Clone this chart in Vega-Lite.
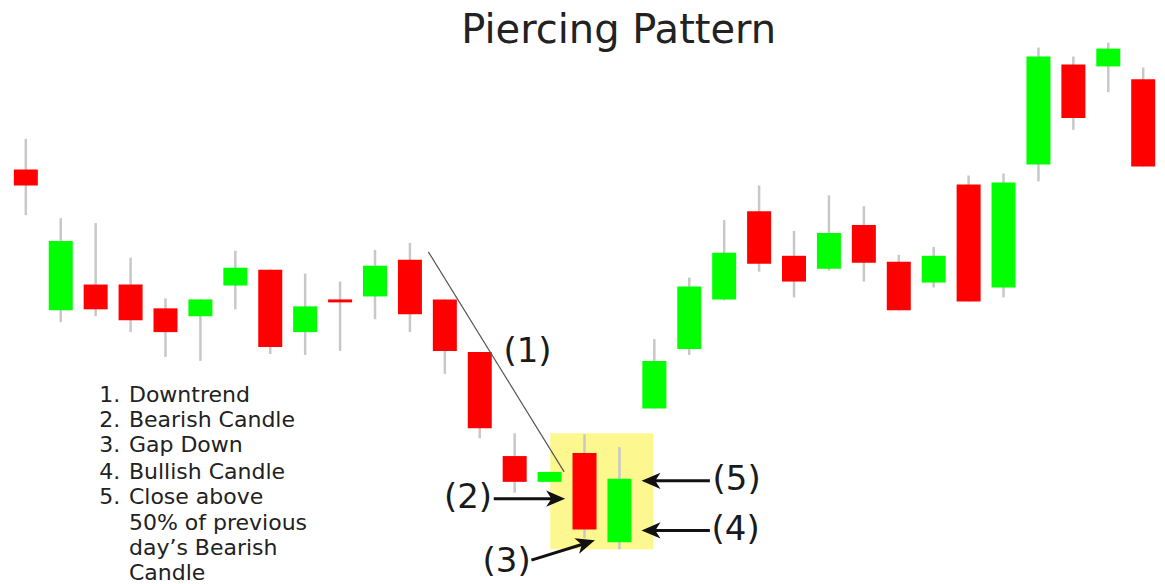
{
  "$schema": "https://vega.github.io/schema/vega-lite/v6.json",
  "width": 1165,
  "height": 584,
  "autosize": {"type": "fit", "contains": "padding"},
  "padding": 0,
  "background": "white",
  "config": {"view": {"stroke": null}},
  "datasets": {
    "candles": [
      {"day": 1, "open": 413, "high": 444, "low": 367, "close": 397},
      {"day": 2, "open": 271, "high": 364, "low": 259, "close": 341},
      {"day": 3, "open": 297, "high": 359, "low": 265, "close": 272},
      {"day": 4, "open": 297, "high": 324, "low": 249, "close": 261},
      {"day": 5, "open": 273, "high": 283, "low": 224, "close": 249},
      {"day": 6, "open": 265, "high": 282, "low": 220, "close": 282},
      {"day": 7, "open": 296, "high": 331, "low": 272, "close": 314},
      {"day": 8, "open": 312, "high": 312, "low": 227, "close": 234},
      {"day": 9, "open": 249, "high": 308, "low": 226, "close": 275},
      {"day": 10, "open": 282, "high": 300, "low": 230, "close": 279},
      {"day": 11, "open": 285, "high": 332, "low": 262, "close": 316},
      {"day": 12, "open": 322, "high": 339, "low": 249, "close": 267},
      {"day": 13, "open": 282, "high": 282, "low": 207, "close": 230},
      {"day": 14, "open": 229, "high": 229, "low": 142, "close": 152},
      {"day": 15, "open": 124, "high": 147, "low": 87, "close": 98},
      {"day": 16, "open": 98, "high": 108, "low": 98, "close": 108},
      {"day": 17, "open": 127, "high": 146, "low": 41, "close": 50},
      {"day": 18, "open": 37, "high": 133, "low": 30, "close": 101},
      {"day": 19, "open": 172, "high": 242, "low": 172, "close": 220},
      {"day": 20, "open": 232, "high": 304, "low": 226, "close": 295},
      {"day": 21, "open": 282, "high": 362, "low": 281, "close": 329},
      {"day": 22, "open": 371, "high": 397, "low": 310, "close": 318},
      {"day": 23, "open": 326, "high": 351, "low": 284, "close": 300},
      {"day": 24, "open": 313, "high": 387, "low": 311, "close": 349},
      {"day": 25, "open": 357, "high": 376, "low": 300, "close": 319},
      {"day": 26, "open": 320, "high": 327, "low": 271, "close": 271},
      {"day": 27, "open": 299, "high": 335, "low": 294, "close": 326},
      {"day": 28, "open": 398, "high": 407, "low": 280, "close": 280},
      {"day": 29, "open": 294, "high": 409, "low": 284, "close": 400},
      {"day": 30, "open": 418, "high": 536, "low": 401, "close": 527},
      {"day": 31, "open": 519, "high": 527, "low": 453, "close": 465},
      {"day": 32, "open": 517, "high": 541, "low": 491, "close": 535},
      {"day": 33, "open": 504, "high": 516, "low": 416, "close": 416}
    ],
    "notes": [
      {"num": "1.", "txt": "Downtrend", "line": 179},
      {"num": "2.", "txt": "Bearish Candle", "line": 153},
      {"num": "3.", "txt": "Gap Down", "line": 128},
      {"num": "4.", "txt": "Bullish Candle", "line": 101},
      {"num": "5.", "txt": "Close above", "line": 76},
      {"num": "", "txt": "50% of previous", "line": 49},
      {"num": "", "txt": "day’s Bearish", "line": 24},
      {"num": "", "txt": "Candle", "line": -1}
    ],
    "labels": [
      {"label": "(1)", "lx": 15.367, "ly": 219},
      {"label": "(2)", "lx": 13.663, "ly": 72},
      {"label": "(3)", "lx": 14.771, "ly": 7},
      {"label": "(4)", "lx": 21.329, "ly": 39},
      {"label": "(5)", "lx": 21.358, "ly": 90}
    ],
    "shafts": [
      {"sx": 14.401, "sy": 81, "ex": 16.105, "ey": 81},
      {"sx": 15.48, "sy": 19, "ex": 16.945, "ey": 35.1},
      {"sx": 20.591, "sy": 49, "ex": 18.973, "ey": 49},
      {"sx": 20.591, "sy": 99, "ex": 18.973, "ey": 99}
    ]
  },
  "layer": [
    {
      "data": {"values": [{"x1": 16.02, "x2": 18.973, "y1": 30, "y2": 147}]},
      "mark": {"type": "rect", "color": "#fcf88f"},
      "encoding": {
        "x": {"field": "x1", "type": "quantitative", "scale": {"domain": [0.4037, 33.481], "nice": false, "zero": false}, "axis": null},
        "x2": {"field": "x2"},
        "y": {"field": "y1", "type": "quantitative", "scale": {"domain": [0, 584], "nice": false, "zero": false}, "axis": null},
        "y2": {"field": "y2"}
      }
    },
    {
      "data": {"name": "candles"},
      "mark": {"type": "rule", "color": "#c8c8c8", "strokeWidth": 2.5},
      "encoding": {
        "x": {"field": "day", "type": "quantitative", "scale": {"domain": [0.4037, 33.481], "nice": false, "zero": false}, "axis": null},
        "y": {"field": "low", "type": "quantitative", "scale": {"domain": [0, 584], "nice": false, "zero": false}, "axis": null},
        "y2": {"field": "high"}
      }
    },
    {
      "data": {"name": "candles"},
      "mark": {"type": "bar", "size": 24},
      "encoding": {
        "x": {"field": "day", "type": "quantitative", "scale": {"domain": [0.4037, 33.481], "nice": false, "zero": false}, "axis": null},
        "y": {"field": "open", "type": "quantitative", "scale": {"domain": [0, 584], "nice": false, "zero": false}, "axis": null},
        "y2": {"field": "close"},
        "color": {"condition": {"test": "datum.open > datum.close", "value": "#ff0000"}, "value": "#00ff00"}
      }
    },
    {
      "data": {"values": [{"ax": 12.528, "ay": 330, "bx": 16.417, "by": 108}]},
      "mark": {"type": "rule", "color": "#555555", "strokeWidth": 1.2},
      "encoding": {
        "x": {"field": "ax", "type": "quantitative", "scale": {"domain": [0.4037, 33.481], "nice": false, "zero": false}, "axis": null},
        "y": {"field": "ay", "type": "quantitative", "scale": {"domain": [0, 584], "nice": false, "zero": false}, "axis": null},
        "x2": {"field": "bx"},
        "y2": {"field": "by"}
      }
    },
    {
      "data": {"name": "shafts"},
      "mark": {"type": "rule", "color": "#111111", "strokeWidth": 3},
      "encoding": {
        "x": {"field": "sx", "type": "quantitative", "scale": {"domain": [0.4037, 33.481], "nice": false, "zero": false}, "axis": null},
        "y": {"field": "sy", "type": "quantitative", "scale": {"domain": [0, 584], "nice": false, "zero": false}, "axis": null},
        "x2": {"field": "ex"},
        "y2": {"field": "ey"}
      }
    },
    {
      "data": {"values": [{"tx": 16.446, "ty": 81}]},
      "mark": {"type": "point", "shape": "M0,0L-2,-0.85L-1.45,0L-2,0.85Z", "size": 361, "filled": true, "opacity": 1, "color": "#111111", "angle": 0},
      "encoding": {
        "x": {"field": "tx", "type": "quantitative", "scale": {"domain": [0.4037, 33.481], "nice": false, "zero": false}, "axis": null},
        "y": {"field": "ty", "type": "quantitative", "scale": {"domain": [0, 584], "nice": false, "zero": false}, "axis": null}
      }
    },
    {
      "data": {"values": [{"tx": 17.297, "ty": 39}]},
      "mark": {"type": "point", "shape": "M0,0L-2,-0.85L-1.45,0L-2,0.85Z", "size": 361, "filled": true, "opacity": 1, "color": "#111111", "angle": 342.65},
      "encoding": {
        "x": {"field": "tx", "type": "quantitative", "scale": {"domain": [0.4037, 33.481], "nice": false, "zero": false}, "axis": null},
        "y": {"field": "ty", "type": "quantitative", "scale": {"domain": [0, 584], "nice": false, "zero": false}, "axis": null}
      }
    },
    {
      "data": {"values": [{"tx": 18.632, "ty": 49}, {"tx": 18.632, "ty": 99}]},
      "mark": {"type": "point", "shape": "M0,0L-2,-0.85L-1.45,0L-2,0.85Z", "size": 361, "filled": true, "opacity": 1, "color": "#111111", "angle": 180},
      "encoding": {
        "x": {"field": "tx", "type": "quantitative", "scale": {"domain": [0.4037, 33.481], "nice": false, "zero": false}, "axis": null},
        "y": {"field": "ty", "type": "quantitative", "scale": {"domain": [0, 584], "nice": false, "zero": false}, "axis": null}
      }
    },
    {
      "data": {"name": "labels"},
      "mark": {"type": "text", "font": "DejaVu Sans", "fontSize": 34, "color": "#1a1a1a", "align": "center", "baseline": "alphabetic"},
      "encoding": {
        "x": {"field": "lx", "type": "quantitative", "scale": {"domain": [0.4037, 33.481], "nice": false, "zero": false}, "axis": null},
        "y": {"field": "ly", "type": "quantitative", "scale": {"domain": [0, 584], "nice": false, "zero": false}, "axis": null},
        "text": {"field": "label"}
      }
    },
    {
      "data": {"name": "notes"},
      "mark": {"type": "text", "font": "DejaVu Sans", "fontSize": 22, "color": "#222222", "align": "left", "baseline": "alphabetic"},
      "encoding": {
        "x": {"datum": 3.101, "type": "quantitative", "scale": {"domain": [0.4037, 33.481], "nice": false, "zero": false}, "axis": null},
        "y": {"field": "line", "type": "quantitative", "scale": {"domain": [0, 584], "nice": false, "zero": false}, "axis": null},
        "text": {"field": "num"}
      }
    },
    {
      "data": {"name": "notes"},
      "mark": {"type": "text", "font": "DejaVu Sans", "fontSize": 22, "color": "#222222", "align": "left", "baseline": "alphabetic"},
      "encoding": {
        "x": {"datum": 3.953, "type": "quantitative", "scale": {"domain": [0.4037, 33.481], "nice": false, "zero": false}, "axis": null},
        "y": {"field": "line", "type": "quantitative", "scale": {"domain": [0, 584], "nice": false, "zero": false}, "axis": null},
        "text": {"field": "txt"}
      }
    },
    {
      "data": {"values": [{"title": "Piercing Pattern"}]},
      "mark": {"type": "text", "font": "DejaVu Sans", "fontSize": 40, "color": "#222222", "align": "center", "baseline": "alphabetic"},
      "encoding": {
        "x": {"datum": 17.979, "type": "quantitative", "scale": {"domain": [0.4037, 33.481], "nice": false, "zero": false}, "axis": null},
        "y": {"datum": 541, "type": "quantitative", "scale": {"domain": [0, 584], "nice": false, "zero": false}, "axis": null},
        "text": {"field": "title"}
      }
    }
  ]
}
